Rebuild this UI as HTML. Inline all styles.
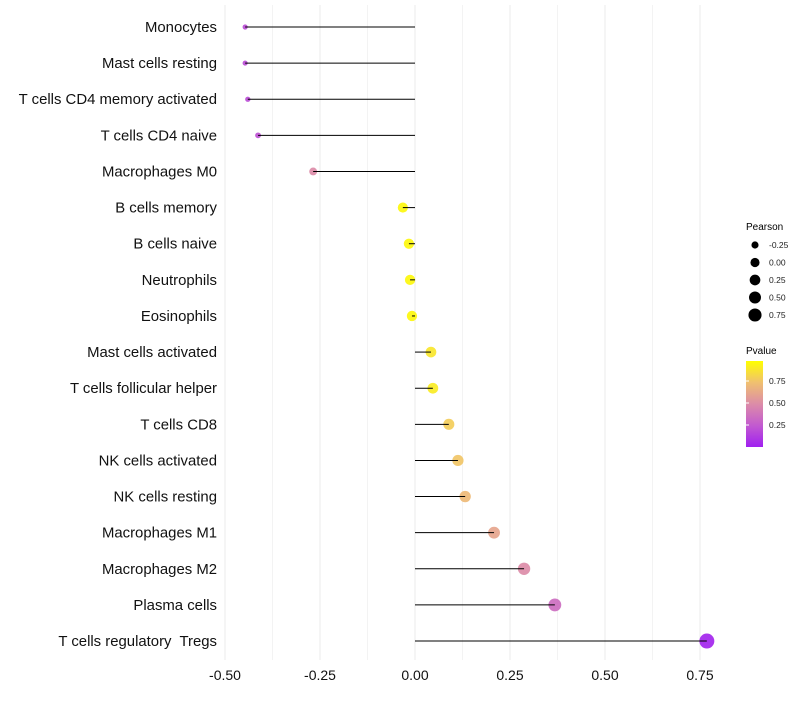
<!DOCTYPE html>
<html><head><meta charset="utf-8"><style>
body{margin:0;background:#fff;font-family:"Liberation Sans",sans-serif}
</style></head><body>
<svg id="chart" width="800" height="700" xmlns="http://www.w3.org/2000/svg" font-family="Liberation Sans, sans-serif">
<defs><linearGradient id="pg" x1="0" y1="1" x2="0" y2="0">
<stop offset="0" stop-color="#a020f0"/><stop offset="0.25" stop-color="#c25ad0"/><stop offset="0.5" stop-color="#dc8ca8"/><stop offset="0.75" stop-color="#f0c070"/><stop offset="1" stop-color="#ffff00"/></linearGradient></defs>
<g id="grid"></g><g id="marks"></g><g id="labels"></g>
<g font-size="10">
<text x="746" y="230" font-size="10">Pearson</text>
<g id="sizeleg"></g>
<text x="746" y="354" font-size="10">Pvalue</text>
<rect x="746" y="361" width="17" height="86" fill="url(#pg)"/>
<g id="colleg"></g>
</g>
</svg>
<script>
const categories=["Monocytes","Mast cells resting","T cells CD4 memory activated","T cells CD4 naive","Macrophages M0","B cells memory","B cells naive","Neutrophils","Eosinophils","Mast cells activated","T cells follicular helper","T cells CD8","NK cells activated","NK cells resting","Macrophages M1","Macrophages M2","Plasma cells","T cells regulatory  Tregs"];
const pearson=[-0.447,-0.447,-0.44,-0.413,-0.268,-0.032,-0.016,-0.013,-0.008,0.042,0.047,0.089,0.113,0.132,0.208,0.287,0.368,0.768];
const pvalues=[0.2,0.2,0.2,0.22,0.5,0.97,0.97,0.97,0.97,0.9,0.92,0.8,0.77,0.72,0.62,0.5,0.35,0.02];
const xTicks=[-0.5,-0.25,0,0.25,0.5,0.75];
const xTickLabels=["-0.50","-0.25","0.00","0.25","0.50","0.75"];
const sizeLegend=[-0.25,0,0.25,0.5,0.75];
const colTicks=[0.25,0.5,0.75];
const NS="http://www.w3.org/2000/svg";
const x=v=>415+v*380;
const y=i=>27+i*36.12;
const r=v=>1.3+5.5*Math.sqrt(Math.max(v+0.5,0));
const cy=p=>447-p*88;
const stops=[[0,[160,32,240]],[0.25,[194,90,208]],[0.5,[220,140,168]],[0.75,[240,192,112]],[1,[255,255,0]]];
function col(p){for(let k=1;k<stops.length;k++){if(p<=stops[k][0]){const a=stops[k-1],b=stops[k];const t=(p-a[0])/(b[0]-a[0]);const c=a[1].map((v,j)=>Math.round(v+(b[1][j]-v)*t));return `rgb(${c})`;}}return 'rgb(255,255,0)';}
function mk(t,at,parent){const e=document.createElementNS(NS,t);for(const k in at)e.setAttribute(k,at[k]);document.getElementById(parent).appendChild(e);return e;}
for(let v=-0.5;v<=0.76;v+=0.125){const g=mk('line',{x1:x(v),x2:x(v),y1:5,y2:660,stroke:'#ebebeb','stroke-width':Math.abs(v*4-Math.round(v*4))<0.01?1:0.6},'grid');

}
xTicks.forEach((v,i)=>{const t=mk('text',{x:x(v),y:680,'text-anchor':'middle','font-size':14,fill:'#111'},'labels');t.textContent=xTickLabels[i];

});
categories.forEach((c,i)=>{
const t=mk('text',{x:217,y:y(i)+5,'text-anchor':'end','font-size':14.9,fill:'#111'},'labels');t.textContent=c;
t.setAttribute('style','white-space:pre');


const pt=mk('circle',{cx:x(pearson[i]),cy:y(i),r:r(pearson[i]),fill:col(pvalues[i]),'fill-opacity':0.92},'marks');


const s=mk('line',{x1:x(0),x2:x(pearson[i]),y1:y(i),y2:y(i),stroke:'#000','stroke-width':1},'marks');


});
sizeLegend.forEach((v,i)=>{const yy=245+i*17.5;
const c=mk('circle',{cx:755,cy:yy,r:r(v)*0.88,fill:'#000'},'sizeleg');


const t=mk('text',{x:769,y:yy+3,'font-size':8.5,fill:'#222'},'sizeleg');t.textContent=v.toFixed(2);

});
colTicks.forEach(p=>{const t=mk('text',{x:769,y:cy(p)+3,'font-size':8.5,fill:'#222'},'colleg');t.textContent=p.toFixed(2);


const l=mk('line',{x1:746,x2:749,y1:cy(p),y2:cy(p),stroke:'#fff'},'colleg');

});
</script>
</body></html>
